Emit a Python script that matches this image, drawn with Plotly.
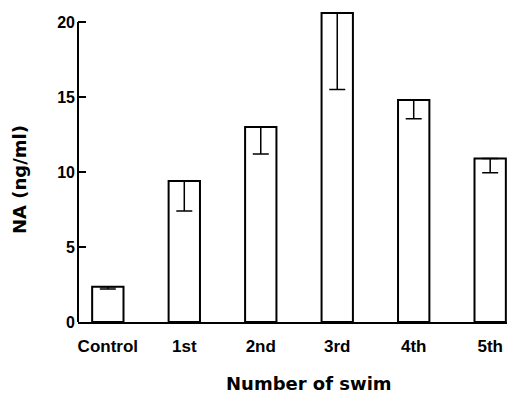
import plotly.graph_objects as go

categories = ["Control", "1st", "2nd", "3rd", "4th", "5th"]
na_mean = [2.35, 9.4, 13.0, 20.6, 14.8, 10.9]
na_err = [0.15, 2.0, 1.8, 5.1, 1.25, 0.95]
y_ticks = [0, 5, 10, 15, 20]
y_axis_top = 20

W, H = 509, 396
L, R, T, B = 78, 2, 7, 74

fig = go.Figure()
fig.add_trace(go.Bar(
    x=list(range(len(categories))),
    y=na_mean,
    width=0.41,
    marker=dict(color="white", line=dict(color="black", width=2)),
    error_y=dict(type="data", symmetric=False, array=[0] * len(na_err),
                 arrayminus=na_err, color="black", thickness=1.5, width=8),
    showlegend=False,
))

pw, ph = W - L - R, H - T - B

fig.update_layout(
    width=W, height=H,
    margin=dict(l=L, r=R, t=T, b=B),
    plot_bgcolor="rgba(0,0,0,0)", paper_bgcolor="white",
    font=dict(family="Liberation Sans", color="black"),
    xaxis=dict(
        range=[-0.39, 5.22],
        tickmode="array",
        tickvals=list(range(len(categories))),
        ticktext=categories,
        showline=True, linecolor="black", linewidth=2,
        ticks="", showgrid=False, zeroline=False,
        tickfont=dict(family="Liberation Sans", size=17, weight="bold"),
        ticklabelstandoff=8,
    ),
    yaxis=dict(
        range=[0, 21],
        tickmode="array",
        tickvals=y_ticks,
        ticktext=[str(v) for v in y_ticks],
        showline=False,
        ticks="inside", ticklen=8, tickwidth=2, tickcolor="black",
        showgrid=False, zeroline=False,
        tickfont=dict(family="Liberation Sans", size=16, weight="bold"),
        ticklabelstandoff=2,
    ),
    shapes=[
        dict(type="line", xref="paper", yref="y", x0=0, x1=0, y0=0, y1=y_axis_top,
             line=dict(color="black", width=2), layer="above"),
    ],
    annotations=[
        dict(text="Number of swim", x=(309 - L) / pw, y=(H - B - 383) / ph,
             xref="paper", yref="paper", xanchor="center", yanchor="middle",
             showarrow=False, font=dict(family="DejaVu Sans", size=18, weight="bold")),
        dict(text="NA (ng/ml)", textangle=-90, x=(19 - L) / pw, y=(H - B - 180) / ph,
             xref="paper", yref="paper", xanchor="center", yanchor="middle",
             showarrow=False, font=dict(family="DejaVu Sans", size=18, weight="bold")),
    ],
)

fig.write_html("out.html", config={"displayModeBar": False},
               post_script="document.body.style.margin='0';")
